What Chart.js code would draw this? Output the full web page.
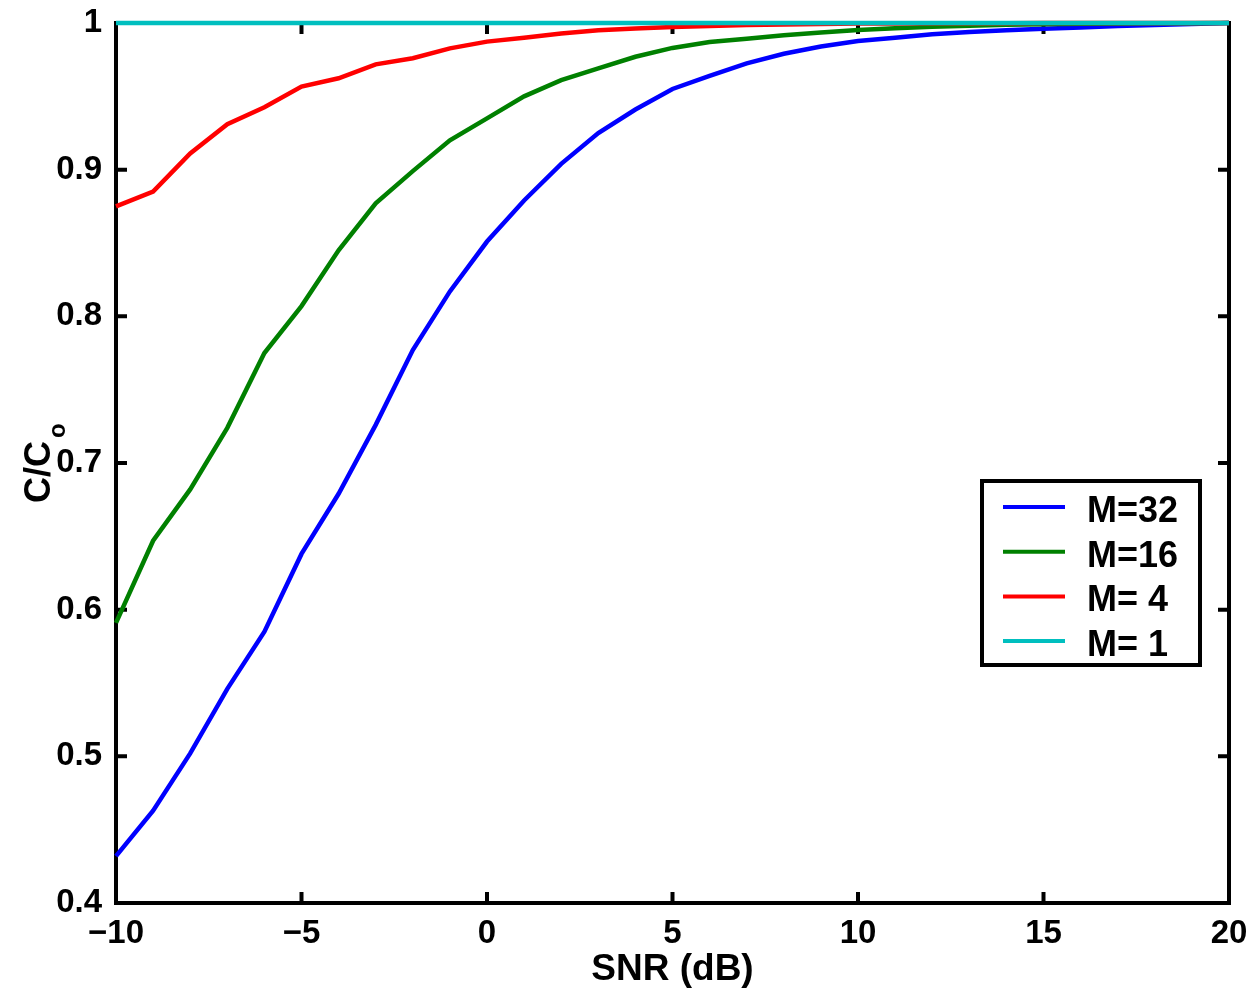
<!DOCTYPE html>
<html>
<head>
<meta charset="utf-8">
<script src="https://cdn.jsdelivr.net/npm/chart.js@4.4.1/dist/chart.umd.min.js"></script>
<style>
  html, body { margin: 0; padding: 0; background: #fff; }
  #wrap { position: relative; width: 1257px; height: 997px; }
</style>
</head>
<body>
<div id="wrap"><canvas id="c"></canvas></div>
<script>
// SNR grid (dB)
const snrDb = [-10, -9, -8, -7, -6, -5, -4, -3, -2, -1, 0, 1, 2, 3, 4, 5, 6, 7, 8, 9, 10,
               11, 12, 13, 14, 15, 16, 17, 18, 19, 20];

// Normalised capacity C/Co for each M
const capM32 = [0.432, 0.463, 0.502, 0.546, 0.585, 0.638, 0.679, 0.726, 0.777, 0.817, 0.851,
                0.879, 0.904, 0.925, 0.941, 0.955, 0.964, 0.9725, 0.979, 0.984, 0.9877,
                0.990, 0.9923, 0.9939, 0.995, 0.996, 0.997, 0.998, 0.9987, 0.9993, 1.0];
const capM16 = [0.591, 0.647, 0.682, 0.724, 0.775, 0.807, 0.845, 0.877, 0.899, 0.920, 0.935,
                0.950, 0.961, 0.969, 0.977, 0.983, 0.987, 0.9893, 0.9916, 0.9936, 0.9952,
                0.9965, 0.9975, 0.9982, 0.9988, 0.9992, 0.9995, 0.9997, 0.9998, 0.9999, 1.0];
const capM4  = [0.875, 0.885, 0.911, 0.931, 0.9425, 0.9566, 0.9623, 0.9718, 0.976, 0.9827, 0.9873,
                0.990, 0.9928, 0.995, 0.9963, 0.9972, 0.998, 0.9986, 0.999, 0.9994, 0.9996,
                0.9997, 0.9998, 0.9999, 0.9999, 1.0, 1.0, 1.0, 1.0, 1.0, 1.0];
const capM1  = [1, 1, 1, 1, 1, 1, 1, 1, 1, 1, 1, 1, 1, 1, 1, 1, 1, 1, 1, 1, 1,
                1, 1, 1, 1, 1, 1, 1, 1, 1, 1];

const seriesLabels = ['M=32', 'M=16', 'M= 4', 'M= 1'];
const seriesColors = ['#0000ff', '#008000', '#ff0000', '#00bfbf'];

const xTickValues = [-10, -5, 0, 5, 10, 15, 20];
const yTickValues = [0.4, 0.5, 0.6, 0.7, 0.8, 0.9, 1];

const xTitle = 'SNR (dB)';
const yTitleMain = 'C/C';
const yTitleSub = 'o';

const FONT = "'Liberation Sans', Arial, Helvetica, sans-serif";

function toPoints(ys) {
  return snrDb.map((x, i) => ({ x: x, y: ys[i] }));
}

const seriesValues = [capM32, capM16, capM4, capM1];
const datasets = seriesValues.map((vals, i) => ({
  label: seriesLabels[i],
  data: toPoints(vals),
  borderColor: seriesColors[i],
  backgroundColor: seriesColors[i],
  borderWidth: 4.5,
  pointRadius: 0,
  tension: 0,
  fill: false,
  clip: 6,
  order: seriesValues.length - i
}));

// Box frame with inward tick marks on all four sides
const framePlugin = {
  id: 'frame',
  beforeDatasetsDraw(chart) {
    const { ctx, chartArea: a, scales } = chart;
    const xs = scales.x, ys = scales.y;
    ctx.save();
    ctx.strokeStyle = '#000';
    ctx.lineWidth = 4;
    ctx.lineJoin = 'miter';
    ctx.strokeRect(a.left, a.top, a.right - a.left, a.bottom - a.top);
    ctx.lineCap = 'butt';
    const L = 11;
    ctx.beginPath();
    xTickValues.forEach(v => {
      const px = xs.getPixelForValue(v);
      ctx.moveTo(px, a.bottom); ctx.lineTo(px, a.bottom - L);
      ctx.moveTo(px, a.top); ctx.lineTo(px, a.top + L);
    });
    yTickValues.forEach(v => {
      const py = ys.getPixelForValue(v);
      ctx.moveTo(a.left, py); ctx.lineTo(a.left + L, py);
      ctx.moveTo(a.right, py); ctx.lineTo(a.right - L, py);
    });
    ctx.stroke();
    ctx.restore();
  }
};

// Boxed legend inside the plot area
const legendPlugin = {
  id: 'boxLegend',
  afterDatasetsDraw(chart) {
    const { ctx } = chart;
    const bx = 982, by = 481, bw = 218, bh = 184;
    ctx.save();
    ctx.fillStyle = '#fff';
    ctx.fillRect(bx, by, bw, bh);
    ctx.strokeStyle = '#000';
    ctx.lineWidth = 4;
    ctx.strokeRect(bx, by, bw, bh);
    ctx.font = 'bold 36px ' + FONT;
    ctx.textAlign = 'left';
    ctx.textBaseline = 'alphabetic';
    chart.data.datasets.forEach((ds, i) => {
      const ly = 507 + i * 44.7;
      ctx.strokeStyle = ds.borderColor;
      ctx.lineWidth = 4;
      ctx.beginPath();
      ctx.moveTo(1003, ly);
      ctx.lineTo(1065, ly);
      ctx.stroke();
      ctx.fillStyle = '#000';
      ctx.fillText(ds.label, 1087, ly + 15);
    });
    ctx.restore();
  }
};

// Axis titles (y title carries a subscript)
const titlePlugin = {
  id: 'axisTitles',
  afterDraw(chart) {
    const { ctx, chartArea: a } = chart;
    ctx.save();
    ctx.fillStyle = '#000';
    ctx.font = 'bold 37px ' + FONT;
    ctx.textAlign = 'center';
    ctx.textBaseline = 'alphabetic';
    ctx.fillText(xTitle, (a.left + a.right) / 2, 980);

    ctx.translate(50, 472);
    ctx.rotate(-Math.PI / 2);
    ctx.font = 'bold 36px ' + FONT;
    ctx.textAlign = 'center';
    ctx.fillText(yTitleMain, 0, 0);
    const w = ctx.measureText(yTitleMain).width;
    ctx.font = 'bold 24px ' + FONT;
    ctx.textAlign = 'left';
    ctx.fillText(yTitleSub, w / 2 + 3, 15);
    ctx.restore();
  }
};

new Chart(document.getElementById('c'), {
  type: 'line',
  data: { datasets: datasets },
  options: {
    responsive: true,
    maintainAspectRatio: false,
    animation: false,
    layout: { padding: { top: 23, right: 28, left: 0, bottom: 0 } },
    plugins: {
      legend: { display: false },
      tooltip: { enabled: false }
    },
    scales: {
      x: {
        type: 'linear',
        min: -10,
        max: 20,
        grid: { display: false, drawTicks: false },
        border: { display: false },
        afterBuildTicks: s => { s.ticks = xTickValues.map(v => ({ value: v })); },
        afterFit: s => { s.height = 94; s.paddingLeft = 0; s.paddingRight = 0; },
        ticks: {
          padding: 11,
          color: '#000',
          maxRotation: 0,
          autoSkip: false,
          font: { family: FONT, size: 33, weight: 'bold' },
          callback: v => (v < 0 ? '\u2212' + Math.abs(v) : String(v))
        }
      },
      y: {
        type: 'linear',
        min: 0.4,
        max: 1,
        grid: { display: false, drawTicks: false },
        border: { display: false },
        afterBuildTicks: s => { s.ticks = yTickValues.map(v => ({ value: v })); },
        afterFit: s => { s.width = 116; s.paddingTop = 0; s.paddingBottom = 0; },
        ticks: {
          padding: 14,
          color: '#000',
          autoSkip: false,
          font: { family: FONT, size: 33, weight: 'bold' },
          callback: v => String(Math.round(v * 10) / 10)
        }
      }
    }
  },
  plugins: [framePlugin, legendPlugin, titlePlugin]
});
</script>
</body>
</html>
